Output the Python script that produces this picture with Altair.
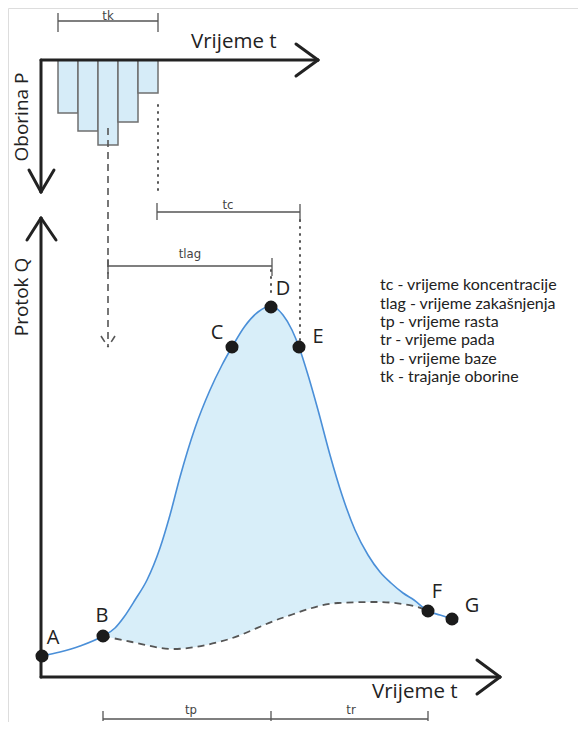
import altair as alt
import pandas as pd

# ---- schematic data (diagram units: x = time, y = downward drawing units) ----
# hydrograph (main runoff curve A..G)
hydro_x = [42, 60, 80, 103, 115, 124, 135, 147, 160, 170, 180, 195, 210, 222, 232, 245, 258, 271,
           283, 292, 299, 308, 318, 330, 342, 355, 368, 380, 391, 403, 414, 428, 440, 452, 458]
hydro_y = [656, 652, 646, 636, 628, 617, 600, 580, 548, 515, 477, 428, 390, 365, 347, 326, 312, 306,
           315, 330, 347, 375, 410, 455, 495, 530, 555, 572, 583, 593, 600, 611, 615, 619, 622]
# base flow separation (dashed B..F)
base_x = [103, 132, 173, 226, 282, 338, 376, 414, 428]
base_y = [636, 642, 649, 640, 618, 603, 602, 606, 611]
# characteristic points
pt_names = ["A", "B", "C", "D", "E", "F", "G"]
pt_x = [42, 103, 232, 271, 299, 428, 452]
pt_y = [656, 636, 347, 307, 347, 611, 619]
lab_x = [53, 102, 217, 283, 318, 437, 472]
lab_y = [638, 616, 333, 289, 337, 592, 606]
# rainfall hyetograph bars
bar_start = [58, 78, 98, 118, 138]
bar_end = [78, 98, 118, 138, 158]
bar_depth = [113, 131, 145, 122, 93]
bar_top = 60
# legend
legend_lines = ["tc - vrijeme koncentracije", "tlag - vrijeme zakašnjenja", "tp - vrijeme rasta",
                "tr - vrijeme pada", "tb - vrijeme baze", "tk - trajanje oborine"]
legend_y = [285, 303.5, 322, 340, 358.5, 377]

# segments: (x, y, x2, y2)
axis_segs = [(41, 60, 318, 60), (296, 44, 318, 60), (296, 76, 318, 60),
             (41, 60, 41, 192), (29, 170, 41, 192), (54, 170, 41, 192),
             (41, 677, 41, 218), (27, 240, 41, 218), (56, 240, 41, 218),
             (41, 677, 500, 677), (477, 660, 500, 677), (477, 694, 500, 677)]
dim_segs = [(58, 21, 158, 21), (58, 13, 58, 32), (158, 13, 158, 32),
            (157, 212, 300, 212), (157, 203, 157, 220), (300, 204, 300, 222),
            (108, 266, 272, 266), (108, 259, 108, 274), (272, 258, 272, 276),
            (103, 719, 428, 719), (103, 711, 103, 721), (271, 711, 271, 721), (428, 711, 428, 721)]
dashed_segs = [(108, 128, 108, 347), (101, 336, 108, 347), (115, 336, 108, 347)]
dotted_segs = [(158, 105, 158, 190), (300, 220, 300, 340), (271, 270, 271, 297)]
dim_labels = ["tk", "tc", "tlag", "tp", "tr"]
dim_lx = [108, 228, 190, 191, 351]
dim_ly = [16, 205, 254, 710, 710]

axis_titles = ["Vrijeme t", "Vrijeme t"]
axis_tx = [191, 372]
axis_ty = [42, 692]
vert_titles = ["Oborina P", "Protok Q"]
vert_tx = [22, 22]
vert_ty = [117, 297]

# ---- scales ----
XS = alt.Scale(domain=[8, 578], nice=False, zero=False)
YS = alt.Scale(domain=[8, 722], reverse=True, nice=False, zero=False)


def X(f="x"):
    return alt.X(f"{f}:Q", scale=XS, axis=None)


def Y(f="y"):
    return alt.Y(f"{f}:Q", scale=YS, axis=None)


def segs(lst):
    return pd.DataFrame(lst, columns=["x", "y", "x2", "y2"])


def rules(lst, **kw):
    return alt.Chart(segs(lst)).mark_rule(**kw).encode(
        x=X(), y=Y(), x2="x2:Q", y2="y2:Q")


hydro = pd.DataFrame({"x": hydro_x, "y": hydro_y})
hydro_BF = hydro[(hydro.x >= 103) & (hydro.x <= 428)].copy()
hydro_BF["y0"] = 676
base = pd.DataFrame({"x": base_x, "y": base_y})
base["y0"] = 676

fill = alt.Chart(hydro_BF).mark_area(color="#d8eef9", interpolate="monotone").encode(
    x=X(), y=Y(), y2="y0:Q")
cover = alt.Chart(base).mark_area(color="white", interpolate="monotone").encode(
    x=X(), y=Y(), y2="y0:Q")

bars = alt.Chart(pd.DataFrame({"x": bar_start, "x2": bar_end, "y2": bar_depth, "y": bar_top})).mark_rect(
    fill="#d6ecf8", stroke="#6f6f6f", strokeWidth=1.5).encode(x=X(), x2="x2:Q", y=Y(), y2="y2:Q")

curve = alt.Chart(hydro).mark_line(color="#4a8fd8", strokeWidth=1.6, interpolate="monotone").encode(
    x=X(), y=Y())
baseline = alt.Chart(base).mark_line(color="#555555", strokeWidth=1.8, strokeDash=[7, 5],
                                     interpolate="monotone").encode(x=X(), y=Y())

axes = rules(axis_segs, color="#222222", strokeWidth=3, strokeCap="round")
dims = rules(dim_segs, color="#555555", strokeWidth=1.3)
dashed = rules(dashed_segs, color="#555555", strokeWidth=1.6, strokeDash=[7, 5])
dotted = rules(dotted_segs, color="#444444", strokeWidth=1.8, strokeDash=[1, 6], strokeCap="round")

points = alt.Chart(pd.DataFrame({"x": pt_x, "y": pt_y})).mark_circle(
    color="#1b1b1b", opacity=1, size=170).encode(x=X(), y=Y())
pt_labels = alt.Chart(pd.DataFrame({"x": lab_x, "y": lab_y, "t": pt_names})).mark_text(
    font="Open Sans", fontSize=20, color="#222222", align="center", baseline="middle").encode(
    x=X(), y=Y(), text="t:N")

dim_text = alt.Chart(pd.DataFrame({"x": dim_lx, "y": dim_ly, "t": dim_labels})).mark_text(
    font="'Liberation Sans Narrow', 'DejaVu Sans Condensed', Roboto, sans-serif", fontSize=13,
    color="#444444", align="center", baseline="middle").encode(
    x=X(), y=Y(), text="t:N")

legend = alt.Chart(pd.DataFrame({"x": [380] * len(legend_lines), "y": legend_y, "t": legend_lines})).mark_text(
    font="Lato", fontSize=16, color="#222222", align="left", baseline="middle").encode(
    x=X(), y=Y(), text="t:N")

htitles = alt.Chart(pd.DataFrame({"x": axis_tx, "y": axis_ty, "t": axis_titles})).mark_text(
    font="Open Sans", fontSize=20.5, color="#222222", align="left", baseline="middle").encode(
    x=X(), y=Y(), text="t:N")
vtitles = alt.Chart(pd.DataFrame({"x": vert_tx, "y": vert_ty, "t": vert_titles})).mark_text(
    font="Open Sans", fontSize=19, color="#222222", align="center", baseline="middle", angle=270).encode(
    x=X(), y=Y(), text="t:N")

chart = alt.layer(
    fill, cover, bars, dashed, dotted, dims, curve, baseline, axes, points,
    pt_labels, dim_text, legend, htitles, vtitles
).properties(
    width=570, height=714, padding=0, autosize=alt.AutoSizeParams(type="none")
).configure_view(stroke=None).configure(background="white")

chart.save("out.html", embed_options={"renderer": "svg", "actions": False})
